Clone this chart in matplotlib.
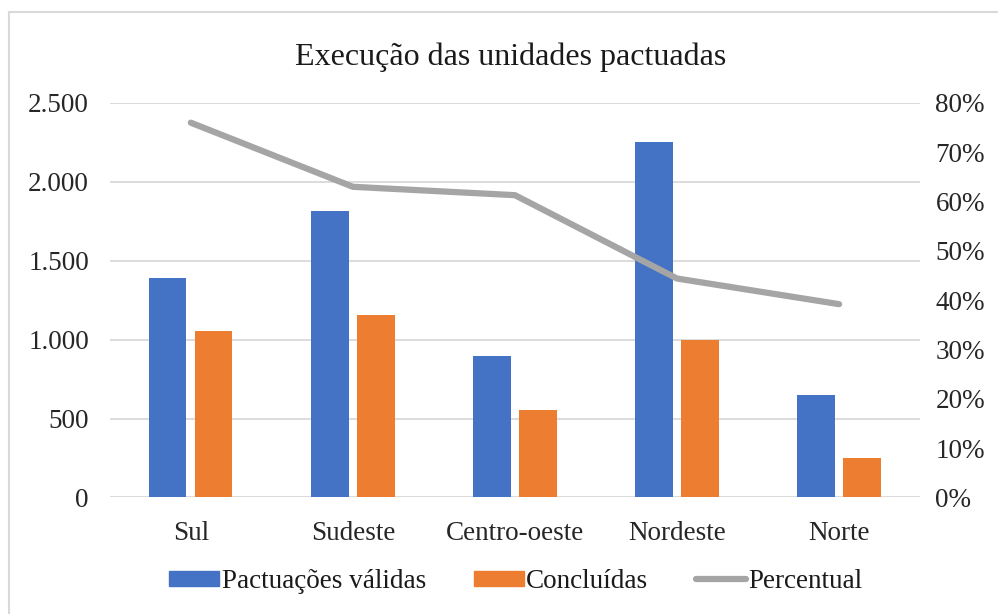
import matplotlib
matplotlib.use("Agg")
import matplotlib.pyplot as plt
import numpy as np
from matplotlib.lines import Line2D

categories = ["Sul", "Sudeste", "Centro-oeste", "Nordeste", "Norte"]
pactuacoes = [1390, 1818, 895, 2253, 647]
concluidas = [1057, 1155, 552, 996, 247]
percentual = [76.0, 63.0, 61.3, 44.4, 39.2]
left_ticks = [0, 500, 1000, 1500, 2000, 2500]
left_labels = ["0", "500", "1.000", "1.500", "2.000", "2.500"]
right_ticks = [0, 10, 20, 30, 40, 50, 60, 70, 80]

plt.rcParams['font.family'] = ['Liberation Serif', 'DejaVu Serif']

fig = plt.figure(figsize=(9.98, 6.14), dpi=100)
ax = fig.add_axes([0.110, 0.1898, 0.812, 0.6425])
ax2 = ax.twinx()

x = np.arange(len(categories))
w = 0.23
ax.bar(x - 0.142, pactuacoes, width=w, color="#4472c4", zorder=3, label="Pactuações válidas")
ax.bar(x + 0.142, concluidas, width=w, color="#ed7d31", zorder=3, label="Concluídas")
ax2.plot(x, percentual, color="#a5a5a5", lw=4.5, solid_capstyle="round", zorder=4)

ax.set_xlim(-0.5, 4.5)
ax.set_ylim(0, 2500)
ax2.set_ylim(0, 80)
ax.set_yticks(left_ticks)
ax.set_yticklabels(left_labels)
ax2.set_yticks(right_ticks)
ax2.set_yticklabels([f"{v}%" for v in right_ticks])
ax.set_xticks(x)
ax.set_xticklabels(categories)

fs = 19.5
ax.yaxis.grid(True, color="#d9d9d9", lw=1.3, zorder=0)
ax.set_axisbelow(True)
for a in (ax, ax2):
    for s in a.spines.values():
        s.set_visible(False)
ax.tick_params(axis="y", length=0, pad=15, labelsize=fs, colors="#262626")
ax.tick_params(axis="x", length=0, pad=17, labelsize=fs, colors="#262626")
ax2.tick_params(axis="y", length=0, pad=11, labelsize=fs, colors="#262626")
ax2.set_zorder(ax.get_zorder() + 1)
ax2.patch.set_visible(False)

fig.text(0.512, 0.907, "Execução das unidades pactuadas", ha="center", va="center",
         fontsize=23, color="#1a1a1a")

handles = [
    plt.Rectangle((0, 0), 1, 1, color="#4472c4"),
    plt.Rectangle((0, 0), 1, 1, color="#ed7d31"),
    Line2D([0], [0], color="#a5a5a5", lw=4.5, solid_capstyle="round"),
]
fig.legend(handles, ["Pactuações válidas", "Concluídas", "Percentual"],
           loc="center", bbox_to_anchor=(0.517, 0.053), ncol=3, frameon=False,
           fontsize=fs, handlelength=1.85, handleheight=0.45, handletextpad=0.1,
           columnspacing=1.75, labelcolor="#1a1a1a")

# outer chart border (left and top)
fig.add_artist(Line2D([0.0095, 0.0095], [0.0, 0.981], color="#d9d9d9", lw=1.5, transform=fig.transFigure))
fig.add_artist(Line2D([0.0095, 1.0], [0.981, 0.981], color="#d9d9d9", lw=1.5, transform=fig.transFigure))

fig.savefig("out.png", dpi=100)
